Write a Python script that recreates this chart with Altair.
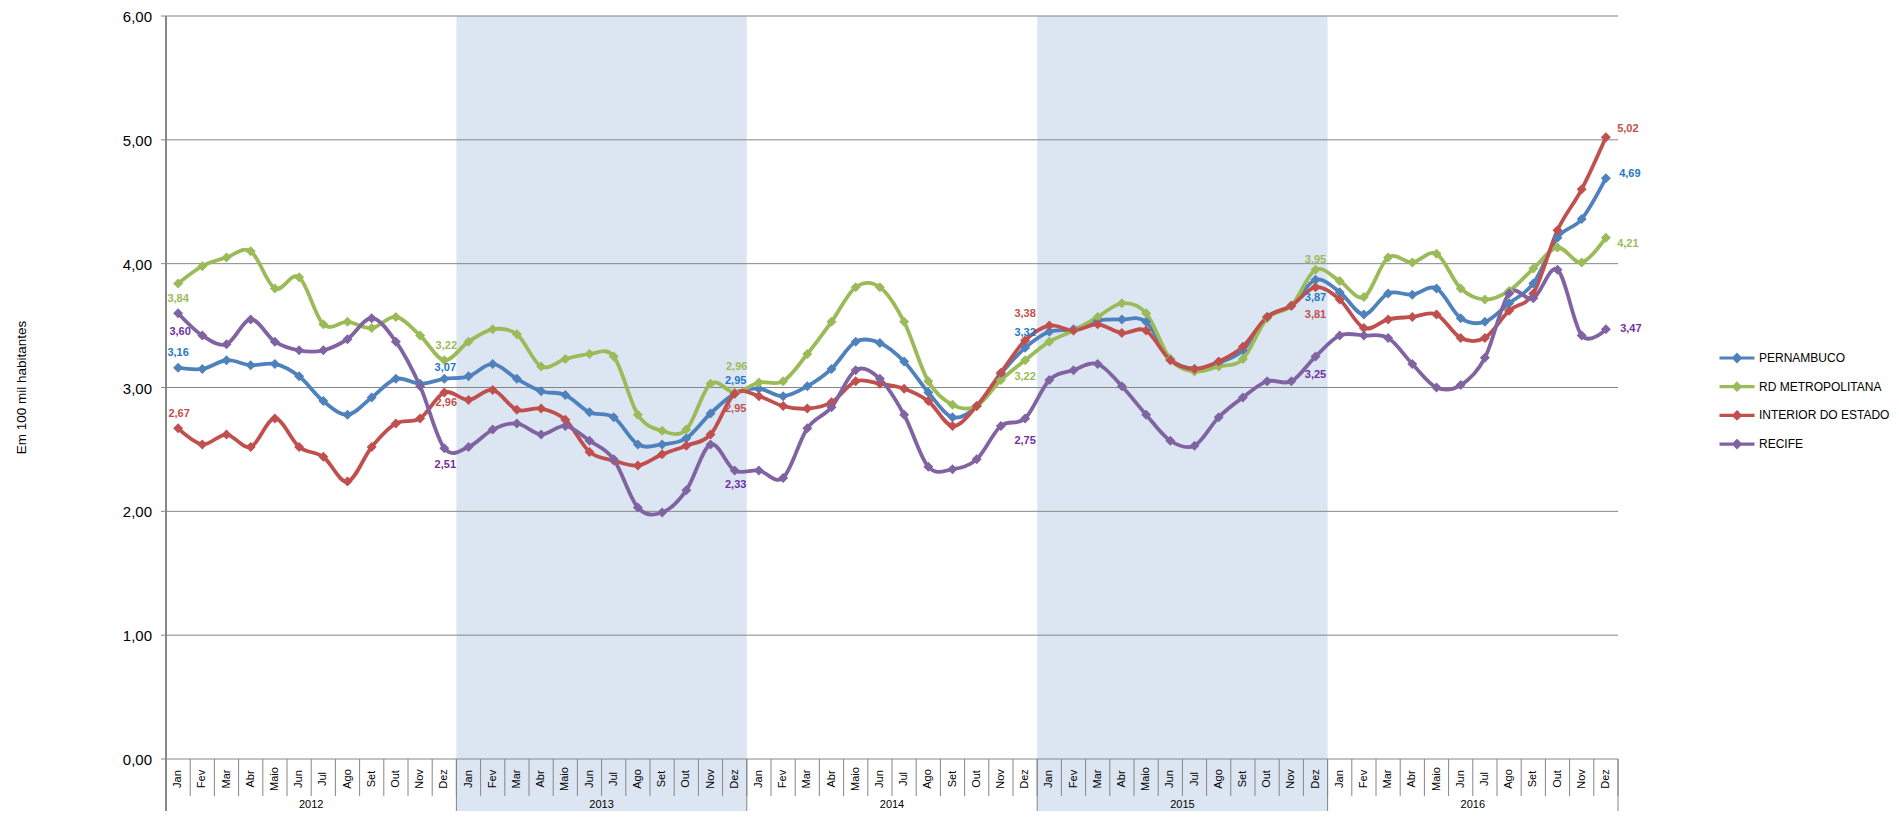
import altair as alt
import pandas as pd

# ---------------- data ----------------
MONTHS = ["Jan", "Fev", "Mar", "Abr", "Maio", "Jun", "Jul", "Ago", "Set", "Out", "Nov", "Dez"]
YEARS = ["2012", "2013", "2014", "2015", "2016"]
SHADED_YEARS = ["2013", "2015"]
SERIES = ["PERNAMBUCO", "RD METROPOLITANA", "INTERIOR DO ESTADO", "RECIFE"]
Y_TICKS = [0, 1, 2, 3, 4, 5, 6]
Y_TITLE = ["Em 100 mil habitantes"]

PERNAMBUCO = [3.16, 3.15, 3.22, 3.18, 3.19, 3.09, 2.89, 2.78, 2.92, 3.07, 3.03, 3.07,
              3.09, 3.19, 3.07, 2.97, 2.94, 2.80, 2.76, 2.54, 2.54, 2.59, 2.79, 2.95,
              2.99, 2.93, 3.01, 3.15, 3.37, 3.36, 3.21, 2.96, 2.76, 2.85, 3.11, 3.32,
              3.45, 3.47, 3.54, 3.55, 3.53, 3.23, 3.15, 3.20, 3.30, 3.57, 3.66, 3.87,
              3.77, 3.59, 3.76, 3.75, 3.80, 3.56, 3.53, 3.68, 3.84, 4.21, 4.36, 4.69]
RD_METROPOLITANA = [3.84, 3.98, 4.05, 4.10, 3.80, 3.89, 3.51, 3.53, 3.48, 3.57, 3.42, 3.22,
                    3.37, 3.47, 3.43, 3.17, 3.23, 3.27, 3.25, 2.78, 2.65, 2.66, 3.03, 2.96,
                    3.04, 3.05, 3.27, 3.53, 3.81, 3.81, 3.53, 3.05, 2.86, 2.85, 3.06, 3.22,
                    3.37, 3.46, 3.57, 3.68, 3.60, 3.23, 3.13, 3.17, 3.23, 3.56, 3.66, 3.95,
                    3.86, 3.73, 4.05, 4.01, 4.08, 3.80, 3.71, 3.78, 3.96, 4.13, 4.01, 4.21]
INTERIOR = [2.67, 2.54, 2.62, 2.52, 2.75, 2.52, 2.44, 2.24, 2.52, 2.71, 2.75, 2.96,
            2.90, 2.98, 2.82, 2.83, 2.74, 2.48, 2.41, 2.37, 2.46, 2.53, 2.62, 2.95,
            2.93, 2.85, 2.83, 2.88, 3.05, 3.03, 2.99, 2.89, 2.69, 2.85, 3.12, 3.38,
            3.50, 3.46, 3.51, 3.44, 3.46, 3.22, 3.15, 3.21, 3.33, 3.57, 3.66, 3.81,
            3.71, 3.48, 3.55, 3.57, 3.59, 3.40, 3.40, 3.62, 3.76, 4.27, 4.60, 5.02]
RECIFE = [3.60, 3.42, 3.35, 3.55, 3.37, 3.30, 3.30, 3.39, 3.56, 3.37, 3.01, 2.51,
          2.52, 2.66, 2.71, 2.62, 2.69, 2.57, 2.42, 2.03, 1.99, 2.17, 2.54, 2.33,
          2.33, 2.27, 2.67, 2.84, 3.14, 3.07, 2.78, 2.36, 2.34, 2.42, 2.69, 2.75,
          3.06, 3.14, 3.19, 3.01, 2.78, 2.57, 2.53, 2.76, 2.92, 3.05, 3.05, 3.25,
          3.42, 3.42, 3.40, 3.19, 3.00, 3.02, 3.24, 3.76, 3.72, 3.95, 3.42, 3.47]

# ---------------- styles ----------------
LINE_COLORS = ["#4F81BD", "#9BBB59", "#C0504D", "#8064A2"]
LABEL_COLORS = {"PERNAMBUCO": "#1F78C8", "RD METROPOLITANA": "#9BBB59",
                "INTERIOR DO ESTADO": "#C0504D", "RECIFE": "#7030A0"}
# label placement (dx, dy) for the labelled points
LABEL_OFFSETS = {
    ("PERNAMBUCO", 0): (0, -15), ("RD METROPOLITANA", 0): (0, 16),
    ("INTERIOR DO ESTADO", 0): (1, -14), ("RECIFE", 0): (2, 19),
    ("PERNAMBUCO", 11): (1, -11), ("RD METROPOLITANA", 11): (2, -14),
    ("INTERIOR DO ESTADO", 11): (2, 11), ("RECIFE", 11): (1, 17),
    ("PERNAMBUCO", 23): (1, -13), ("RD METROPOLITANA", 23): (2, -25),
    ("INTERIOR DO ESTADO", 23): (1, 15), ("RECIFE", 23): (1, 15),
    ("PERNAMBUCO", 35): (0, -15), ("RD METROPOLITANA", 35): (0, 17),
    ("INTERIOR DO ESTADO", 35): (0, -26), ("RECIFE", 35): (0, 23),
    ("PERNAMBUCO", 47): (0, 18), ("RD METROPOLITANA", 47): (0, -10),
    ("INTERIOR DO ESTADO", 47): (0, 28), ("RECIFE", 47): (0, 18),
    ("PERNAMBUCO", 59): (24, -4), ("RD METROPOLITANA", 59): (22, 6),
    ("INTERIOR DO ESTADO", 59): (22, -8), ("RECIFE", 59): (25, 0),
}
FONT = "Liberation Sans"
GRID = "#868686"
SHADE = "#DCE6F2"
W, H = 1452, 743

# ---------------- tables ----------------
rows = []
for s, vals in zip(SERIES, [PERNAMBUCO, RD_METROPOLITANA, INTERIOR, RECIFE]):
    for i, v in enumerate(vals):
        rows.append({"series": s, "idx": i, "value": v,
                     "month": MONTHS[i % 12], "year": YEARS[i // 12]})
df = pd.DataFrame(rows)

n_months = len(MONTHS) * len(YEARS)
months_df = pd.DataFrame({"idx": list(range(n_months)),
                          "month": [MONTHS[i % 12] for i in range(n_months)]})
mbound_df = pd.DataFrame({"b": list(range(n_months + 1))})
years_df = pd.DataFrame({"year": YEARS, "start": [k * 12 for k in range(len(YEARS))]})
ybound_df = pd.DataFrame({"b": [k * 12 for k in range(len(YEARS) + 1)]})
shade_df = years_df[years_df["year"].isin(SHADED_YEARS)]
grid_df = pd.DataFrame({"v": Y_TICKS})
title_df = pd.DataFrame({"t": Y_TITLE})

xscale = alt.Scale(domain=[0, n_months], nice=False, zero=False)
yscale = alt.Scale(domain=[0, 6], nice=False, zero=True)

# ---------------- layers ----------------
shade = alt.Chart(shade_df).mark_rect(color=SHADE).transform_calculate(
    end="datum.start + 12"
).encode(
    x=alt.X("start:Q", scale=xscale, axis=None),
    x2="end:Q",
    y=alt.value(0),
    y2=alt.value(H + 52),
)

grid = alt.Chart(grid_df).mark_rule(color=GRID, strokeWidth=1).encode(
    y=alt.Y("v:Q", scale=yscale, axis=None),
    x=alt.value(-5),
    x2=alt.value(W),
)

ytick_labels = alt.Chart(grid_df).transform_calculate(
    lbl="replace(format(datum.v, '.2f'), '.', ',')"
).mark_text(
    font=FONT, fontSize=15, color="#000000", align="right", baseline="middle", dy=1
).encode(
    y=alt.Y("v:Q", scale=yscale, axis=None),
    x=alt.value(-14),
    text="lbl:N",
)

ytitle = alt.Chart(title_df).mark_text(
    font=FONT, fontSize=13.5, color="#000000", angle=270, align="center", baseline="middle"
).encode(
    x=alt.value(-144),
    y=alt.value(H / 2),
    text="t:N",
)

yline = alt.Chart(grid_df).mark_rule(color=GRID, strokeWidth=1).encode(
    x=alt.value(0),
    y=alt.value(0),
    y2=alt.value(H + 52),
)

msep = alt.Chart(mbound_df).mark_rule(color=GRID, strokeWidth=1).encode(
    x=alt.X("b:Q", scale=xscale, axis=None),
    y=alt.value(H),
    y2=alt.value(H + 37),
)

ysep = alt.Chart(ybound_df).mark_rule(color=GRID, strokeWidth=1).encode(
    x=alt.X("b:Q", scale=xscale, axis=None),
    y=alt.value(H),
    y2=alt.value(H + 52),
)

mlabels = alt.Chart(months_df).mark_text(
    angle=270, font=FONT, fontSize=11, color="#000000", align="center", baseline="middle"
).transform_calculate(xpos="datum.idx + 0.5").encode(
    x=alt.X("xpos:Q", scale=xscale, axis=None),
    y=alt.value(H + 20),
    text="month:N",
)

ylabels = alt.Chart(years_df).mark_text(
    font=FONT, fontSize=11, color="#000000", align="center", baseline="middle"
).transform_calculate(xpos="datum.start + 6").encode(
    x=alt.X("xpos:Q", scale=xscale, axis=None),
    y=alt.value(H + 46),
    text="year:N",
)

color_scale = alt.Scale(domain=SERIES, range=LINE_COLORS)

base = alt.Chart(df).transform_calculate(xpos="datum.idx + 0.5")

lines = base.mark_line(interpolate="cardinal", strokeWidth=3.8).encode(
    x=alt.X("xpos:Q", scale=xscale, axis=None),
    y=alt.Y("value:Q", scale=yscale, axis=None),
    color=alt.Color(
        "series:N", scale=color_scale,
        legend=alt.Legend(
            orient="none", legendX=1562, legendY=333, title=None,
            symbolType="M-2.5,0L2.5,0M0,-0.45L0.45,0L0,0.45L-0.45,0Z",
            symbolSize=196, symbolStrokeWidth=3.2,
            labelFont=FONT, labelFontSize=12, labelColor="#000000",
            labelOffset=13, rowPadding=8.7, padding=0,
        ),
    ),
    order="idx:Q",
)

points = base.mark_point(shape="diamond", filled=True, size=100, opacity=1).encode(
    x=alt.X("xpos:Q", scale=xscale, axis=None),
    y=alt.Y("value:Q", scale=yscale, axis=None),
    color=alt.Color("series:N", scale=color_scale, legend=None),
)

label_layers = []
for (s, i), (dx, dy) in LABEL_OFFSETS.items():
    label_layers.append(
        base.transform_filter(
            (alt.datum.series == s) & (alt.datum.idx == i)
        ).transform_calculate(
            lbl="replace(format(datum.value, '.2f'), '.', ',')"
        ).mark_text(
            font=FONT, fontSize=11, fontWeight="bold", color=LABEL_COLORS[s],
            align="center", baseline="middle", dx=dx, dy=dy,
        ).encode(
            x=alt.X("xpos:Q", scale=xscale, axis=None),
            y=alt.Y("value:Q", scale=yscale, axis=None),
            text="lbl:N",
        )
    )

chart = alt.layer(
    shade, grid, yline, ytick_labels, ytitle, msep, ysep, mlabels, ylabels,
    lines, points, *label_layers
).properties(
    width=W, height=H,
    autosize=alt.AutoSizeParams(type="none"),
    padding={"left": 158, "top": 8, "right": 273, "bottom": 52},
    background="white",
).configure_view(stroke=None)

chart.save("out.html", embed_options={"renderer": "svg", "actions": False})
